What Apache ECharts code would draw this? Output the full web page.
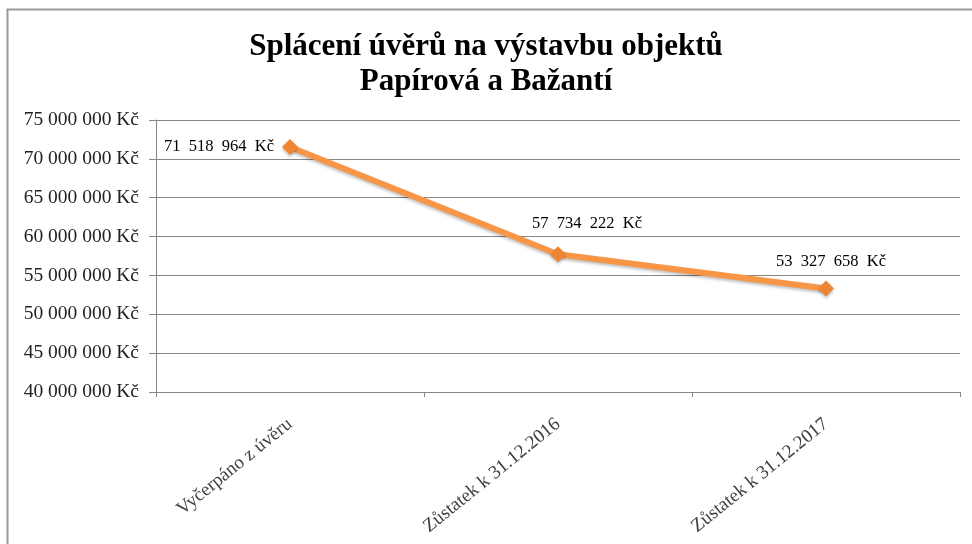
<!DOCTYPE html>
<html>
<head>
<meta charset="utf-8">
<script src="https://cdn.jsdelivr.net/npm/echarts@6/dist/echarts.min.js"></script>
<style>
  html, body { margin: 0; padding: 0; background: #fff; }
  #chart { width: 972px; height: 544px; }
</style>
</head>
<body>
<div id="chart"></div>
<script>
const categories = ["Vyčerpáno z úvěru", "Zůstatek k 31.12.2016", "Zůstatek k 31.12.2017"];
const values = [71518964, 57734222, 53327658];
const yTicks = { min: 40000000, max: 75000000, interval: 5000000 };

const serif = "'Liberation Serif', 'DejaVu Serif', serif";

// 71518964 -> "71 518 964"
function groups(n, sep) {
  return String(n).replace(/\B(?=(\d{3})+(?!\d))/g, sep);
}

const chart = echarts.init(document.getElementById("chart"));

chart.setOption({
  animation: false,
  textStyle: { fontFamily: serif },
  title: {
    text: "Splácení úvěrů na výstavbu objektů\nPapírová a Bažantí",
    left: "center",
    top: 24,
    textStyle: { fontFamily: serif, fontWeight: "bold", fontSize: 31, color: "#000", lineHeight: 35 },
  },
  graphic: [
    {
      type: "rect",
      shape: { x: 7.5, y: 9.5, width: 1000, height: 600 },
      style: { fill: "none", stroke: "#9a9a9a", lineWidth: 2 },
    },
  ],
  grid: { left: 156, right: 12, top: 120, bottom: 152, containLabel: false },
  xAxis: {
    type: "category",
    data: categories,
    boundaryGap: true,
    axisLine: { lineStyle: { color: "#868686" } },
    axisTick: { show: true, length: 5, lineStyle: { color: "#868686" } },
    axisLabel: {
      rotate: 39,
      margin: 30,
      fontSize: 19,
      color: "#404040",
      fontFamily: serif,
    },
  },
  yAxis: {
    type: "value",
    min: yTicks.min,
    max: yTicks.max,
    interval: yTicks.interval,
    axisLine: { show: true, lineStyle: { color: "#868686" } },
    axisTick: { show: true, length: 7, lineStyle: { color: "#868686" } },
    splitLine: { lineStyle: { color: "#868686" } },
    axisLabel: {
      fontSize: 19.5,
      color: "#222",
      margin: 17,
      fontFamily: serif,
      formatter: (v) => groups(v, " ") + " Kč",
    },
  },
  series: [
    {
      type: "line",
      data: values.map((v, i) => ({
        value: v,
        // per-point label positions as in the original
        label: i === 0
          ? { position: "left", distance: 8 }
          : { position: "top", distance: 18, offset: i === 1 ? [29, 4] : [5, 8] },
      })),
      symbol: "diamond",
      symbolSize: 16,
      lineStyle: { color: "#F79646", width: 6, shadowColor: "rgba(0,0,0,0.25)", shadowBlur: 3, shadowOffsetY: 2 },
      itemStyle: { color: "#EE8533", shadowColor: "rgba(0,0,0,0.25)", shadowBlur: 3, shadowOffsetY: 2 },
      label: {
        show: true,
        fontSize: 16.5,
        color: "#000",
        fontFamily: serif,
        formatter: (p) => groups(p.value, "\u2002") + "\u2002Kč",
      },
      emphasis: { disabled: true },
    },
  ],
});
</script>
</body>
</html>
